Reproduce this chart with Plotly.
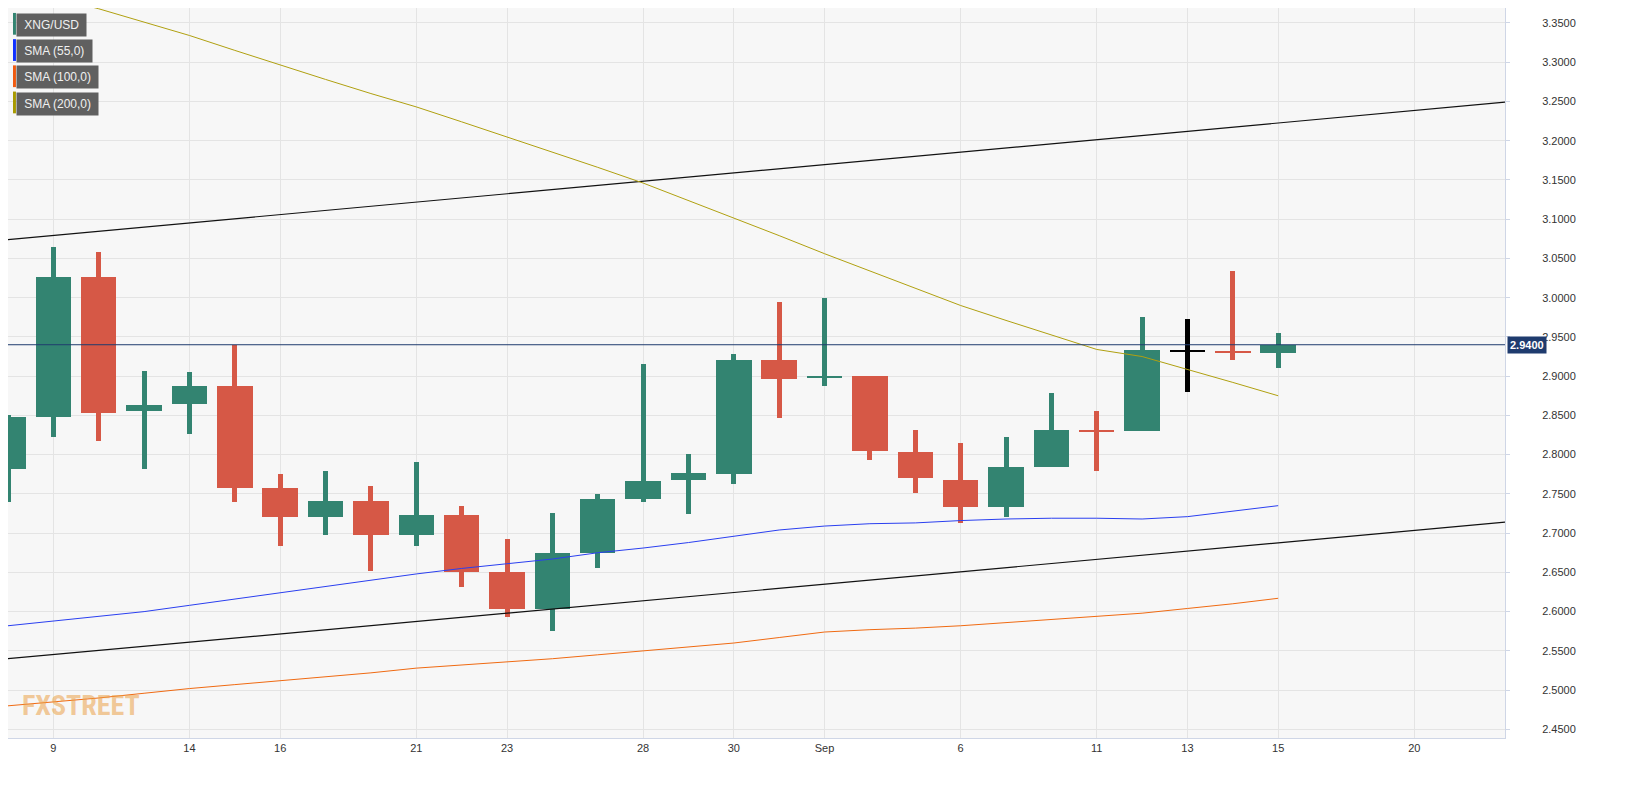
import plotly.graph_objects as go

# trading days, Aug 8 - Sep 15 2023
dates = ["Aug 8", "Aug 9", "Aug 10", "Aug 11", "Aug 14", "Aug 15", "Aug 16", "Aug 17", "Aug 18",
         "Aug 21", "Aug 22", "Aug 23", "Aug 24", "Aug 25", "Aug 28", "Aug 29", "Aug 30", "Aug 31",
         "Sep 1", "Sep 4", "Sep 5", "Sep 6", "Sep 7", "Sep 8", "Sep 11", "Sep 12", "Sep 13",
         "Sep 14", "Sep 15"]
opens = [2.782, 2.848, 3.026, 2.855, 2.864, 2.888, 2.758, 2.720, 2.741, 2.698, 2.723, 2.650,
         2.603, 2.675, 2.743, 2.768, 2.775, 2.920, 2.897, 2.900, 2.803, 2.768, 2.733, 2.784,
         2.832, 2.830, 2.932, 2.932, 2.930]
closes = [2.848, 3.026, 2.853, 2.863, 2.888, 2.758, 2.720, 2.741, 2.698, 2.723, 2.650, 2.603,
          2.675, 2.743, 2.767, 2.777, 2.921, 2.896, 2.900, 2.804, 2.770, 2.733, 2.784, 2.832,
          2.830, 2.933, 2.931, 2.930, 2.940]
highs = [2.850, 3.065, 3.058, 2.906, 2.905, 2.940, 2.775, 2.779, 2.760, 2.790, 2.735, 2.693,
         2.726, 2.750, 2.916, 2.801, 2.928, 2.995, 3.000, 2.900, 2.831, 2.815, 2.823, 2.879,
         2.856, 2.975, 2.973, 3.034, 2.955]
lows = [2.740, 2.823, 2.817, 2.782, 2.826, 2.740, 2.684, 2.697, 2.652, 2.683, 2.632, 2.593,
        2.575, 2.655, 2.740, 2.724, 2.763, 2.847, 2.887, 2.793, 2.751, 2.713, 2.720, 2.784,
        2.779, 2.830, 2.880, 2.920, 2.911]

sma55 = [2.582, 2.588, 2.594, 2.600, 2.608, 2.616, 2.624, 2.632, 2.640, 2.648, 2.655, 2.661,
         2.667, 2.675, 2.681, 2.688, 2.696, 2.704, 2.709, 2.712, 2.713, 2.716, 2.718, 2.719,
         2.719, 2.718, 2.721, 2.728, 2.735]
sma100 = [2.480, 2.485, 2.490, 2.496, 2.502, 2.507, 2.512, 2.517, 2.522, 2.528, 2.532, 2.536,
          2.540, 2.545, 2.550, 2.555, 2.560, 2.567, 2.574, 2.577, 2.579, 2.582, 2.586, 2.590,
          2.594, 2.598, 2.604, 2.610, 2.617]
sma200 = [3.395, 3.383, 3.368, 3.351, 3.334, 3.315, 3.296, 3.278, 3.260, 3.243, 3.224, 3.205,
          3.186, 3.166, 3.146, 3.124, 3.102, 3.079, 3.056, 3.034, 3.012, 2.990, 2.971, 2.953,
          2.934, 2.925, 2.909, 2.892, 2.875]

trend_x = [0, 33]
upper_trend = [3.074, 3.249]
lower_trend = [2.540, 2.714]
last_price = 2.94

tick_pos = [1, 4, 6, 9, 11, 14, 16, 18, 21, 24, 26, 28, 31]
tick_text = ["9", "14", "16", "21", "23", "28", "30", "Sep", "6", "11", "13", "15", "20"]

GREEN = "#338471"
RED = "#d65846"

idx = list(range(len(dates)))
colors = [GREEN if c >= o else RED for o, c in zip(opens, closes)]
colors[26] = "#000000"
body_base = [min(o, c) for o, c in zip(opens, closes)]
body_h = [max(abs(c - o), 0.0015) for o, c in zip(opens, closes)]

fig = go.Figure()

for ys in (upper_trend, lower_trend):
    fig.add_trace(go.Scatter(x=trend_x, y=ys, mode="lines", line=dict(color="#111111", width=1.2)))
fig.add_trace(go.Scatter(x=idx, y=sma55, mode="lines", line=dict(color="#2a3ff0", width=1)))
fig.add_trace(go.Scatter(x=idx, y=sma100, mode="lines", line=dict(color="#f06a12", width=1)))
fig.add_trace(go.Scatter(x=idx, y=sma200, mode="lines", line=dict(color="#b0a010", width=1)))

# wicks
fig.add_trace(go.Bar(x=idx, y=[h - l for h, l in zip(highs, lows)], base=lows, width=0.11,
                     marker=dict(color=colors, line=dict(width=0))))
# bodies
fig.add_trace(go.Bar(x=idx, y=body_h, base=body_base, width=0.78,
                     marker=dict(color=colors, line=dict(width=0))))

fig.add_hline(y=last_price, line=dict(color="#1f3b6e", width=1))
fig.add_annotation(x=1, xref="paper", y=last_price, yref="y", text="<b>%.4f</b>" % last_price,
                   showarrow=False, xanchor="left", xshift=2, bgcolor="#1f3b6e",
                   font=dict(color="white", size=11, family="Arial"), borderpad=2)

legend = [("XNG/USD", GREEN), ("SMA (55,0)", "#1030ff"),
          ("SMA (100,0)", "#f05a10"), ("SMA (200,0)", "#a89a00")]
W, H = 1505, 738
for i, (txt, col) in enumerate(legend):
    top = 5 + i * 26.5
    fig.add_annotation(x=8 / W, xref="paper", y=1 - top / H, yref="paper", text=" " + txt + " ",
                       showarrow=False, xanchor="left", yanchor="top", align="left",
                       bgcolor="#606060", borderpad=4,
                       font=dict(color="#f0f0f0", size=12, family="Arial"))
    fig.add_shape(type="rect", xref="paper", yref="paper", x0=5 / W, x1=8 / W,
                  y0=1 - (top + 22) / H, y1=1 - top / H, fillcolor=col, line=dict(width=0))

fig.add_annotation(x=12 / W, xref="paper", y=0.045, yref="paper", text="<b>FXSTREET</b>",
                   showarrow=False, xanchor="left", yanchor="middle",
                   font=dict(color="rgba(235,160,70,0.55)", size=28, family="Roboto Condensed, Liberation Sans Narrow, Arial Narrow, sans-serif"))

fig.update_layout(
    width=1643, height=792, showlegend=False, barmode="overlay", bargap=0,
    paper_bgcolor="white", plot_bgcolor="#f7f7f7",
    margin=dict(l=0, r=146, t=0, b=62),
)
fig.update_xaxes(range=[0, 33], tickvals=tick_pos, ticktext=tick_text, showgrid=True,
                 gridcolor="#e4e4e4", zeroline=False, ticks="", showline=True,
                 linecolor="#cfd6e6", mirror=True, tickfont=dict(size=11, color="#333", family="Arial"))
fig.update_yaxes(range=[2.439, 3.369], side="right", dtick=0.05, tick0=2.45, tickformat=".4f",
                 showgrid=True, gridcolor="#e4e4e4", zeroline=False, showline=True,
                 linecolor="#cfd6e6", mirror=True, ticks="outside", ticklen=4, tickcolor="#cfd6e6",
                 ticklabelstandoff=30, tickfont=dict(size=11, color="#333", family="Arial"))

fig.write_html("out.html")
